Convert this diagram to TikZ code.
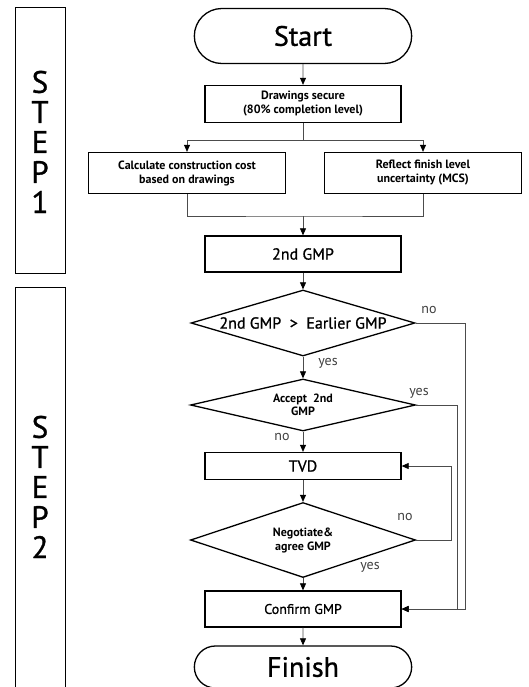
\documentclass[tikz,border=0pt]{standalone}
\usepackage{fontspec}
\setmainfont{PT Sans}
\newfontfamily\heavy{PT Sans}[FakeBold=1]
\usetikzlibrary{shapes.geometric,shapes.misc,arrows.meta}

\tikzset{
	stepbox/.style={draw, line width=1pt},
	steplbl/.style={font=\heavy\fontsize{31}{31}\selectfont, inner sep=0pt},
	term/.style={draw, rounded rectangle, line width=1.3pt, minimum width=224pt, font=\heavy\fontsize{28}{28}\selectfont},
	proc/.style={draw, rectangle, line width=1.3pt, minimum width=196pt, align=center, font=\bfseries\fontsize{12}{14}\selectfont},
	dec/.style={draw, diamond, line width=1.3pt, inner sep=0pt, aspect=3},
	dectext/.style={align=center, inner sep=0pt},
	lbl/.style={gray!50!black, font=\fontsize{14}{14}\selectfont, inner sep=0pt},
	conn/.style={gray!60!black, line width=0.7pt},
	arr/.style={conn, -{Triangle[length=7pt,width=6pt,color=black]}}
}

\begin{document}
\begin{tikzpicture}[x=1pt, y=-1pt]
	\useasboundingbox (0,0) rectangle (528,687);
	\clip (0,0) rectangle (528,687);
	\draw[stepbox] (15,8) rectangle (65,273);
	\draw[stepbox] (15,287) rectangle (65,700);
	\foreach \l [count=\i] in {S,T,E,P,1}
		\node[steplbl] (s1\i) at (40, 52+30*\i) {\l};
	\foreach \l [count=\i] in {S,T,E,P,2}
		\node[steplbl] (s2\i) at (40, 397+30*\i) {\l};

	\node[term, minimum height=55pt] (start) at (303,36) {Start};
	\node[proc, minimum height=37pt] (secure) at (303,104) {Drawings secure\\(80\% completion level)};
	\node[proc, minimum height=41pt, minimum width=197pt] (calc) at (187,173) {Calculate construction cost\\based on drawings};
	\node[proc, minimum height=41pt, minimum width=197pt] (mcs) at (423,173) {Reflect finish level\\uncertainty (MCS)};
	\node[proc, minimum height=36pt, font=\heavy\fontsize{16}{16}\selectfont] (gmp) at (303,254) {2nd GMP};
	\node[dec, minimum width=224pt, minimum height=66pt] (d1) at (303,323) {};
	\node[dectext, font=\heavy\fontsize{16}{16}\selectfont] (t1) at (d1) {2nd GMP~~>~~Earlier GMP};
	\node[dec, minimum width=225pt, minimum height=52pt] (d2) at (303,405) {};
	\node[dectext, font=\bfseries\fontsize{12}{13}\selectfont] (t2) at (d2) {Accept~~2nd\\GMP};
	\node[proc, minimum height=27pt, font=\heavy\fontsize{16}{16}\selectfont] (tvd) at (303,466) {TVD};
	\node[dec, minimum width=225pt, minimum height=75pt] (d3) at (303,540) {};
	\node[dectext, font=\bfseries\fontsize{12}{14}\selectfont] (t3) at (d3) {Negotiate\&\\agree GMP};
	\node[proc, minimum height=36pt, font=\heavy\fontsize{14}{14}\selectfont] (conf) at (303,609) {Confirm GMP};
	\node[term, minimum height=42pt] (fin) at (303,667) {Finish};

	\node[lbl] (no1) at (429,310) {no};
	\node[lbl] (yes1) at (328,363) {yes};
	\node[lbl] (yes2) at (419,393) {yes};
	\node[lbl] (no2) at (282,437) {no};
	\node[lbl] (no3) at (405,517) {no};
	\node[lbl] (yes3) at (370,567) {yes};

	\coordinate (split) at (303,140);
	\coordinate (merge) at (303,216);
	\draw[arr] (start) -- (secure);
	\draw[conn] (secure) -- (split);
	\draw[arr] (split) -| (calc);
	\draw[arr] (split) -| (mcs);
	\draw[conn] (calc) |- (merge) -| (mcs);
	\draw[arr] (merge) -- (gmp);
	\foreach \a/\b in {gmp/d1, d1/d2, d2/tvd, tvd/d3, d3/conf, conf/fin}
		\draw[arr] (\a) -- (\b);
	\coordinate (r1) at (465,323);
	\coordinate (r2) at (457,405);
	\coordinate (r3) at (451,540);
	\draw[arr] (d1.east) -- (r1) |- (conf.east);
	\draw[arr] (d2.east) -- (r2) |- (conf.east);
	\draw[arr] (d3.east) -- (r3) |- (tvd.east);
\end{tikzpicture}
\end{document}
